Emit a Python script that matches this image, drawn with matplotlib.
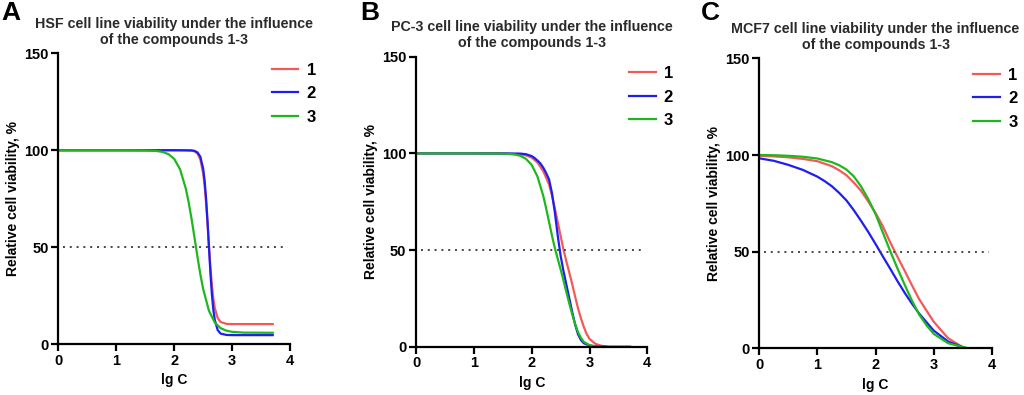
import matplotlib
matplotlib.use("Agg")
import matplotlib.pyplot as plt

plt.rcParams['font.family'] = ['Liberation Sans', 'DejaVu Sans']
plt.rcParams['font.weight'] = 'bold'

# values (lg C -> relative viability, %)
# panel A: HSF
hsf_x1 = [0, 1.0, 2.0, 2.2, 2.3, 2.35, 2.4, 2.45, 2.5, 2.525, 2.55, 2.575, 2.6, 2.625, 2.65, 2.675, 2.7, 2.75, 2.8, 2.9, 3.0, 3.7]
hsf_y1 = [100, 100, 100, 100.0, 99.8, 99.4, 98.3, 95.3, 88.0, 81.5, 72.7, 62.1, 50.5, 39.6, 30.4, 23.5, 18.6, 13.4, 11.4, 10.4, 10.3, 10.3]
hsf_x2 = [0, 1.0, 2.0, 2.3, 2.35, 2.4, 2.45, 2.5, 2.525, 2.55, 2.575, 2.6, 2.625, 2.65, 2.675, 2.7, 2.75, 2.8, 2.9, 3.0, 3.7]
hsf_y2 = [100, 100, 100, 99.9, 99.7, 98.9, 96.7, 90.4, 84.1, 75.0, 63.1, 49.6, 36.5, 25.6, 17.7, 12.4, 7.2, 5.4, 4.7, 4.6, 4.6]
hsf_x3 = [0, 1.0, 1.5, 1.7, 1.8, 1.9, 2.0, 2.1, 2.2, 2.25, 2.3, 2.35, 2.4, 2.45, 2.5, 2.6, 2.7, 2.8, 2.9, 3.0, 3.2, 3.7]
hsf_y3 = [100, 100, 99.9, 99.6, 99.1, 98.0, 95.5, 90.2, 80.2, 73.0, 64.4, 54.9, 45.2, 36.1, 28.3, 17.1, 11.1, 8.2, 6.9, 6.3, 5.9, 5.8]

# panel B: PC-3
pc3_x1 = [0, 1.0, 1.5, 1.8, 1.9, 2.0, 2.1, 2.2, 2.3, 2.35, 2.4, 2.45, 2.5, 2.55, 2.6, 2.65, 2.7, 2.75, 2.8, 2.85, 2.9, 2.95, 3.0, 3.1, 3.2, 3.3]
pc3_y1 = [100, 100, 99.9, 99.5, 99.0, 97.8, 95.3, 90.8, 84.0, 78.3, 71.5, 64.5, 57.2, 50.2, 44.0, 38.3, 32.4, 26.0, 20.0, 14.8, 10.3, 6.6, 4.0, 1.5, 0.5, 0]
pc3_x2 = [0, 1.0, 1.5, 1.8, 1.9, 2.0, 2.05, 2.1, 2.15, 2.2, 2.25, 2.3, 2.35, 2.4, 2.45, 2.5, 2.55, 2.6, 2.65, 2.7, 2.75, 2.8, 2.85, 2.9, 3.0, 3.1, 3.3, 3.7]
pc3_y2 = [100, 100, 100, 99.9, 99.6, 98.6, 97.6, 96.3, 94.8, 92.6, 89.8, 86.5, 79.5, 69.5, 57.5, 47.0, 39.0, 32.0, 25.0, 18.0, 11.5, 6.5, 3.5, 1.8, 0.6, 0.2, 0, 0]
pc3_x3 = [0, 1.0, 1.5, 1.7, 1.8, 1.9, 2.0, 2.1, 2.2, 2.25, 2.3, 2.35, 2.4, 2.45, 2.5, 2.55, 2.6, 2.65, 2.7, 2.75, 2.8, 2.85, 2.9, 3.0, 3.1, 3.2]
pc3_y3 = [100, 100, 99.9, 99.5, 98.8, 97.2, 94.0, 88.0, 78.0, 71.5, 64.5, 57.5, 51.0, 45.5, 40.0, 34.2, 28.2, 22.3, 16.8, 11.8, 7.6, 4.6, 2.5, 0.8, 0.2, 0]

# panel C: MCF7
mcf_x1 = [0, 0.25, 0.5, 0.75, 1.0, 1.25, 1.375, 1.5, 1.625, 1.75, 1.875, 2.0, 2.125, 2.25, 2.375, 2.5, 2.625, 2.75, 3.0, 3.25, 3.5, 3.54]
mcf_y1 = [99.6, 99.3, 98.8, 98.0, 96.8, 94.2, 92.1, 89.5, 85.8, 81.5, 76.0, 70.0, 63.2, 55.0, 47.5, 40.2, 32.7, 25.5, 13.8, 5.2, 0.6, 0]
mcf_x2 = [0, 0.25, 0.5, 0.75, 1.0, 1.125, 1.25, 1.375, 1.5, 1.625, 1.75, 1.875, 2.0, 2.125, 2.25, 2.375, 2.5, 2.625, 2.75, 3.0, 3.25, 3.5, 3.57]
mcf_y2 = [98.3, 97.0, 94.9, 92.3, 88.8, 86.5, 83.8, 80.4, 76.5, 71.5, 66.0, 60.2, 54.0, 47.6, 41.3, 34.9, 28.8, 23.2, 18.0, 9.2, 3.5, 0.6, 0]
mcf_x3 = [0, 0.25, 0.5, 0.75, 1.0, 1.25, 1.375, 1.5, 1.625, 1.75, 1.875, 2.0, 2.125, 2.25, 2.375, 2.5, 2.625, 2.75, 2.875, 3.0, 3.25, 3.5, 3.6]
mcf_y3 = [100, 99.9, 99.6, 99.1, 98.2, 96.3, 94.7, 92.5, 89.0, 83.8, 77.2, 69.5, 60.0, 50.5, 41.5, 33.0, 24.8, 17.5, 12.0, 7.5, 2.6, 0.7, 0]

titles = ['HSF cell line viability under the influence\nof the compounds 1-3',
          'PC-3 cell line viability under the influence\nof the compounds 1-3',
          'MCF7 cell line viability under the influence\nof the compounds 1-3']
letters = ['A', 'B', 'C']
labels = ['1', '2', '3']
colors = ['#F25A5A', '#1E1EF0', '#1EB81E']

panels = [
    [(hsf_x1, hsf_y1), (hsf_x2, hsf_y2), (hsf_x3, hsf_y3)],
    [(pc3_x1, pc3_y1), (pc3_x2, pc3_y2), (pc3_x3, pc3_y3)],
    [(mcf_x1, mcf_y1), (mcf_x2, mcf_y2), (mcf_x3, mcf_y3)],
]

fig = plt.figure(figsize=(10.24, 3.95), dpi=100)
boxes = [(0.057, 0.129, 0.2263, 0.736),
         (0.4063, 0.1223, 0.2259, 0.734),
         (0.7415, 0.1182, 0.227, 0.734)]
letter_x = [0.001, 0.352, 0.684]

for i in range(3):
    ax = fig.add_axes(boxes[i])
    for (xs, ys), c, lab in zip(panels[i], colors, labels):
        ax.plot(xs, ys, color=c, lw=1.6, label=lab, solid_joinstyle='round')
    ax.plot([0.08, 3.95], [50, 50], color='#444444', lw=1.4, linestyle=(0, (1, 2.5)))
    ax.set_xlim(0, 4)
    ax.set_ylim(0, 150)
    ax.set_xticks([0, 1, 2, 3, 4])
    ax.set_yticks([0, 50, 100, 150])
    for s in ['top', 'right']:
        ax.spines[s].set_visible(False)
    for s in ['left', 'bottom']:
        ax.spines[s].set_linewidth(1.6)
    ax.tick_params(width=1.6, length=5, labelsize=10.5, pad=2)
    for t in ax.get_xticklabels() + ax.get_yticklabels():
        t.set_fontweight('bold')
    ax.set_xlabel('lg C', fontsize=10, fontweight='bold', labelpad=4)
    ax.set_ylabel('Relative cell viability, %', fontsize=10, fontweight='bold', labelpad=3)
    ax.set_title(titles[i], fontsize=10.3, fontweight='bold', color='#2a2a2a', pad=7, linespacing=1.15)
    ax.legend(loc='upper right', bbox_to_anchor=(1.14, 0.99), frameon=False,
              prop={'size': 12, 'weight': 'bold'}, handlelength=1.6,
              handletextpad=0.5, labelspacing=0.5, borderaxespad=0)
    fig.text(letter_x[i], 0.997, letters[i], fontsize=19, fontweight='bold', va='top', ha='left')

fig.savefig('out.png', dpi=100)
